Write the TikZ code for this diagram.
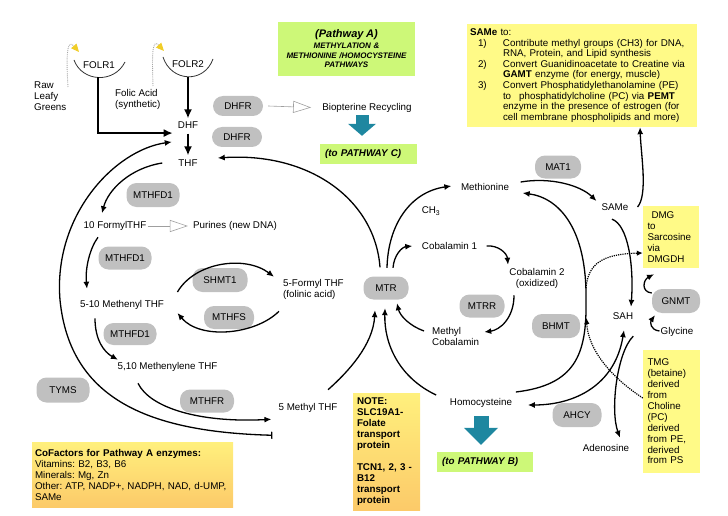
\documentclass[tikz,border=0pt]{standalone}
\usepackage{fontspec}
\setmainfont{Liberation Sans}
\usetikzlibrary{positioning}
\usetikzlibrary{calc}
\usetikzlibrary{arrows.meta}
\definecolor{pillgray}{RGB}{192,192,192}
\definecolor{boxyellow}{RGB}{255,250,135}
\definecolor{boxgreen}{RGB}{205,248,120}
\definecolor{noteyellow}{RGB}{255,240,125}
\definecolor{noteorange}{RGB}{252,202,105}
\definecolor{arrteal}{RGB}{30,135,160}
\definecolor{tipyellow}{RGB}{240,205,40}
\newcommand{\lblsize}{\fontsize{9.8}{11}\selectfont}
\frenchspacing
\tikzset{
    pill/.style = {rectangle, rounded corners=10pt, fill=pillgray, minimum width=50pt, minimum height=23pt, inner sep=1pt, font=\lblsize},
    chem/.style = {inner sep=1pt, align=center, font=\lblsize},
    cheml/.style = {inner sep=1pt, align=left, anchor=west, font=\lblsize},
    ybox/.style = {fill=boxyellow, inner sep=4pt, align=left, font=\lblsize},
    obox/.style = {top color=noteyellow, bottom color=noteorange, inner sep=4pt, align=left, font=\lblsize},
    gbox/.style = {fill=boxgreen, inner sep=5pt, align=left, font=\lblsize\bfseries\itshape},
    edgen/.style = {-{Latex[length=7pt,width=6pt]}, line width=1.3pt},
    edgebar/.style = {{Bar[width=7pt]}-{Latex[length=7pt,width=6pt]}, line width=1.3pt}, % from 5 methyl thf
    edgeboth/.style = {{Latex[length=7pt,width=6pt]}-{Latex[length=7pt,width=6pt]}, line width=1.3pt}, % reversible
    edget/.style = {-{Latex[length=9pt,width=8pt]}, line width=2.4pt}, % uptake
    edged/.style = {-{Latex[length=6pt,width=5.5pt]}, line width=1.2pt, densely dotted}, % side routes
    edgeo/.style = {-{Triangle[open,length=18pt,width=12pt]}, draw=gray!75, line width=0.6pt}, % by-product
    edgey/.style = {-{Triangle[length=8pt,width=7pt,color=tipyellow]}, draw=gray!70, line width=0.9pt, densely dotted}, % into receptor
    cup/.style = {line width=0.8pt, draw=black!80},
    blockarr/.style = {draw=arrteal, line width=13pt},
}

\begin{document}
\begin{tikzpicture}[x=1pt, y=-1pt]
\useasboundingbox (0,0) rectangle (728,516);
%
% boxes
\node[gbox, align=center, text width=127pt, minimum height=54pt, font=\fontsize{8}{9.5}\selectfont\bfseries\itshape] at (346.5,49) (patha) {{\fontsize{11}{12}\selectfont (Pathway A)}\\[1.5pt]METHYLATION \&\\METHIONINE /HOMOCYSTEINE\\PATHWAYS};
\node[gbox, text width=87pt, minimum height=20pt] at (368.5,154) (toc) {(to PATHWAY C)};
\node[gbox, text width=86pt, minimum height=20pt] at (485,462) (tob) {(to PATHWAY B)};
\node[ybox, text width=224pt, minimum height=103pt, inner sep=3pt, font=\fontsize{9.8}{10.6}\selectfont] at (582,75.5) (samebox) {\textbf{SAMe} to:\\
\hspace*{8pt}\makebox[25pt][l]{1)}Contribute methyl groups (CH3) for DNA,\\
\hspace*{33pt}RNA, Protein, and Lipid synthesis\\
\hspace*{8pt}\makebox[25pt][l]{2)}Convert Guanidinoacetate to Creatine via\\
\hspace*{33pt}\textbf{GAMT} enzyme (for energy, muscle)\\
\hspace*{8pt}\makebox[25pt][l]{3)}Convert Phosphatidylethanolamine (PE)\\
\hspace*{33pt}to\hspace{8pt}phosphatidylcholine (PC) via \textbf{PEMT}\\
\hspace*{33pt}enzyme in the presence of estrogen (for\\
\hspace*{33pt}cell membrane phospholipids and more)};
\node[ybox, text width=47pt, minimum height=62pt, inner sep=4.5pt] at (671,237) (dmgbox) {\hspace*{4pt}DMG\\to\\Sarcosine\\via\\DMGDH};
\node[ybox, text width=48pt, minimum height=123pt, inner sep=4.5pt, font=\fontsize{9.8}{10.9}\selectfont] at (671.5,411.5) (tmgbox) {TMG\\(betaine)\\derived\\from\\Choline\\(PC)\\derived\\from PE,\\derived\\from PS};
\node[obox, text width=59pt, minimum height=117pt, font=\lblsize\bfseries] at (386.5,451.5) (note) {NOTE:\\SLC19A1-\\Folate\\transport\\protein\\[11pt]TCN1, 2, 3 -\\B12\\transport\\protein};
\node[obox, text width=195pt, minimum height=65pt, inner sep=3pt] at (132.5,474.5) (cofac) {\textbf{CoFactors for Pathway A enzymes:}\\Vitamins: B2, B3, B6\\Minerals: Mg, Zn\\Other: ATP, NADP+, NADPH, NAD, d-UMP,\\SAMe};
%
% enzymes
\node[pill, minimum height=20pt] at (238,106) (dhfra) {DHFR};
\node[pill, minimum height=20pt] at (237,137) (dhfrb) {DHFR};
\node[pill, minimum width=53pt, minimum height=24pt] at (153,195) (mthfda) {MTHFD1};
\node[pill, minimum width=53pt] at (125,258) (mthfdb) {MTHFD1};
\node[pill, minimum width=53pt, minimum height=22pt] at (130,334) (mthfdc) {MTHFD1};
\node[pill, minimum width=55pt, minimum height=24pt] at (220,280) (shmt) {SHMT1};
\node[pill] at (229,317.5) (mthfs) {MTHFS};
\node[pill, minimum width=53pt, minimum height=25pt] at (63,390) (tyms) {TYMS};
\node[pill, minimum width=54pt] at (207,401) (mthfr) {MTHFR};
\node[pill, minimum width=45pt] at (386,288) (mtr) {MTR};
\node[pill, minimum width=46pt] at (558,167) (mat) {MAT1};
\node[pill, minimum width=45pt] at (482,306) (mtrr) {MTRR};
\node[pill, minimum width=48pt, minimum height=24pt] at (556,326) (bhmt) {BHMT};
\node[pill, minimum width=49pt, minimum height=24pt] at (577,415) (ahcy) {AHCY};
\node[pill, minimum width=48pt, minimum height=24pt] at (676,301) (gnmt) {GNMT};
%
% compounds
\node[chem] at (99,65) (folra) {FOLR1};
\node[chem] at (188,64) (folrb) {FOLR2};
\node[cheml] at (33,96) (greens) {Raw\\Leafy\\Greens};
\node[cheml] at (114,99.5) (folic) {Folic Acid\\(synthetic)};
\node[chem] at (188,125) (dhf) {DHF};
\node[chem] at (188,163) (thf) {THF};
\node[chem] at (367,107.5) (biopt) {Biopterine Recycling};
\node[chem] at (115,226) (formyl) {10 FormylTHF};
\node[chem] at (235,226) (purines) {Purines (new DNA)};
\node[chem] at (122,305) (methenyl) {5-10 Methenyl THF};
\node[chem] at (167.5,367) (methylene) {5,10 Methenylene THF};
\node[chem] at (308,408) (mthf) {5 Methyl THF};
\node[cheml] at (282,289.5) (folinic) {5-Formyl THF\\(folinic acid)};
\node[chem] at (485,187) (met) {Methionine};
\node[chem] at (431,211) (ch3) {CH\textsubscript{3}};
\node[chem] at (449.5,246) (coba) {Cobalamin 1};
\node[chem] at (537,278.5) (cobb) {Cobalamin 2\\(oxidized)};
\node[cheml] at (431,336.5) (mecob) {Methyl\\Cobalamin};
\node[chem] at (615,207) (same) {SAMe};
\node[chem] at (623,316) (sah) {SAH};
\node[chem] at (677,332) (gly) {Glycine};
\node[chem] at (481,403) (hcy) {Homocysteine};
\node[chem] at (606,448) (ade) {Adenosine};
%
% folate uptake
\draw[cup] (74,60) .. controls (82,82) and (114,84) .. (125,62);
\draw[cup] (163,57) .. controls (171,82) and (204,84) .. (213,59);
\coordinate (cupa) at (98,77.5);
\coordinate (cupb) at (188,77);
\draw[edgey] (68,87) .. controls (66,55) and (67,38) .. (79,52);
\draw[edgey] (153,86) .. controls (152,55) and (152,38) .. (164,51);
\draw[edget, shorten >=4pt] (cupa) |- ($(dhf.south west)+(0,3.5)$);
\draw[edget, shorten >=2pt] (cupb) -- (cupb |- dhf.north);
\draw[edget, shorten <=4pt, shorten >=3pt] (dhf.south) -- (thf.north);
%
% side products
\draw[edgeo] ($(dhfra.east)+(5,0)$) -- ($(biopt.west)+(-10,0)$);
\draw[edgeo] (formyl.east) -- ($(purines.west)+(-4,0)$);
\draw[blockarr, -{Triangle[length=12pt,width=28pt,line width=0pt]}, shorten <=2pt, shorten >=8pt] ($(biopt.south)+(-5,0)$) -- ($(toc.north)+(-6.5,0)$);
\draw[blockarr, line width=15pt, -{Triangle[length=17pt,width=34pt,line width=0pt]}, shorten <=7pt, shorten >=7pt] (hcy.south) -- ($(tob.north)+(-4,0)$);
%
% folate cycle
\draw[edgen] ($(thf.west)+(-15,0)$) .. controls (130,168) and (108,190) .. ($(formyl.north)+(-13,-7)$);
\draw[edgen] ($(formyl.south)+(-17,5.5)$) .. controls (90,248) and (85,268) .. ($(methenyl.north)+(-35,-10.5)$);
\draw[edgen] ($(methenyl.south)+(-27,7.5)$) .. controls (95,340) and (104,352) .. ($(methylene.north west)+(1.5,-1.5)$);
\draw[edgen] ($(methylene.south)+(-29.5,10.5)$) .. controls (150,408) and (200,423) .. ($(mthf.south west)+(-6,5.5)$);
\draw[edgebar] ($(mthf.south west)+(-5,21.5)$) .. controls (150,432) and (70,400) .. (60,300)
    .. controls (53,215) and (115,150) .. ($(thf.north west)+(-5.5,-16.5)$);
\draw[edgen] ($(methenyl.east)+(12.3,-13)$) .. controls (195,262) and (245,255) .. ($(folinic.north west)+(-8,-1.5)$);
\draw[edgen] ($(folinic.south west)+(-3,10.5)$) .. controls (255,335) and (200,340) .. ($(methenyl.east)+(12.3,8)$);
%
% methionine cycle
\draw[edgen] ($(mtr.north)+(-6,-9)$) .. controls (375,200) and (310,152) .. ($(thf.east)+(19,-5)$);
\draw[edgen] ($(mtr.north)+(1,-8.5)$) .. controls (388,225) and (410,192) .. ($(met.west)+(-8.5,-1)$);
\draw[edgen] ($(mtr.north)+(7,-8.5)$) .. controls (394,255) and (402,247) .. ($(coba.west)+(-8.5,0)$);
\draw[edgen] ($(mecob.west)+(-7,-5.5)$) .. controls (410,326) and (400,316) .. ($(mtr.south)+(11,3.5)$);
\draw[edgen] ($(coba.east)+(8.5,0)$) .. controls (498,245) and (507,253) .. ($(cobb.north)+(-29,-2.5)$);
\draw[edgen] ($(cobb.south)+(-23,5.5)$) .. controls (514,318) and (500,330) .. ($(mecob.east)+(4,-4.5)$);
\draw[edgen] ($(mthf.north)+(20,-12.5)$) .. controls (348,372) and (373,345) .. ($(mtr.south)+(-11,10.5)$);
\draw[edgen] ($(hcy.west)+(-12.6,-8)$) .. controls (400,378) and (384,345) .. ($(mtr.south)+(-1,8.5)$);
\draw[edgen] ($(met.east)+(10.5,-5)$) .. controls (550,177) and (580,185) .. ($(same.west)+(-4,-6)$);
\draw[edgen] ($(hcy.east)+(2.6,-11)$) .. controls (575,385) and (587,355) .. (586,300)
    .. controls (587,230) and (560,198) .. ($(met.east)+(12.5,6)$);
\coordinate (bhmtup) at (586,288);
\coordinate (bhmtlow) at (586.5,318);
\draw[edgen] ($(same.south)+(-3,7.5)$) .. controls (628,225) and (634,265) .. ($(sah.north)+(8,-4.5)$);
\draw[edgen] ($(same.east)+(8,0)$) .. controls (648,195) and (641,155) .. ($(samebox.south)+(58,0)$);
\draw[edgeboth] ($(hcy.east)+(14.6,2)$) .. controls (575,405) and (615,385) .. ($(sah.south)+(1,9.5)$);
\draw[edgen] ($(sah.south east)+(-1,15.5)$) .. controls (617,352) and (610,410) .. ($(ade.north)+(14,-5.5)$);
\draw[edgen] ($(gnmt.west)+(0,-8)$) .. controls (641,292) and (643,280) .. ($(dmgbox.south)+(-17,6)$);
\draw[edgen] ($(gly.west)+(0,-1)$) .. controls (650,330) and (650,322) .. ($(gnmt.south)+(-21,2)$);
\draw[edged] (bhmtup) .. controls (588,264) and (602,254) .. ($(dmgbox.west)+(0,16)$);
\draw[edged] ($(tmgbox.west)+(0,-13.5)$) .. controls (612,378) and (588,350) .. (bhmtlow);

\end{tikzpicture}
\end{document}
